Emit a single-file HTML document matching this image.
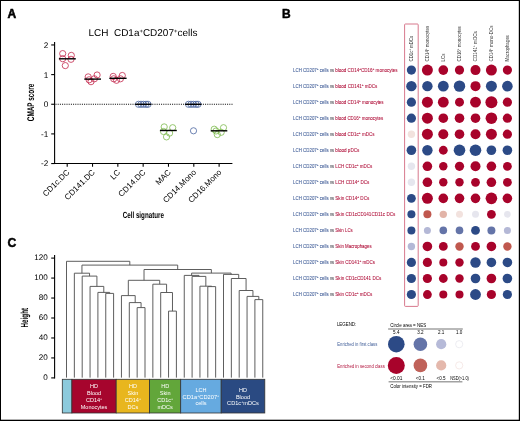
<!DOCTYPE html>
<html><head><meta charset="utf-8"><style>
html,body{margin:0;padding:0;background:#fff;width:520px;height:421px;overflow:hidden}
svg{display:block;font-family:"Liberation Sans", sans-serif;will-change:transform}
.gp{text-rendering:geometricPrecision}
</style></head><body>
<svg width="520" height="421" viewBox="0 0 520 421">
<rect x="0" y="0" width="520" height="421" fill="#fff"/>
<text x="7.6" y="17.6" font-size="12.0" fill="#000" font-weight="bold" stroke="#000" stroke-width="0.55">A</text>
<text x="88.4" y="36.3" font-size="9.9" fill="#000" textLength="109.0" lengthAdjust="spacingAndGlyphs" class="gp">LCH&#160;&#160;CD1a<tspan baseline-shift="super" font-size="5.8">+</tspan>CD207<tspan baseline-shift="super" font-size="5.8">+</tspan>cells</text>
<g stroke="#000" stroke-width="1.1" fill="none">
<line x1="54.6" y1="42" x2="54.6" y2="164.10000000000002"/>
<line x1="54.05" y1="163.55" x2="232.4" y2="163.55"/>
<line x1="51.2" y1="44.95" x2="54.6" y2="44.95"/>
<line x1="51.2" y1="74.6" x2="54.6" y2="74.6"/>
<line x1="51.2" y1="104.25" x2="54.6" y2="104.25"/>
<line x1="51.2" y1="133.9" x2="54.6" y2="133.9"/>
<line x1="51.2" y1="163.55" x2="54.6" y2="163.55"/>
<line x1="67.2" y1="163.55" x2="67.2" y2="166.75"/>
<line x1="92.52000000000001" y1="163.55" x2="92.52000000000001" y2="166.75"/>
<line x1="117.84" y1="163.55" x2="117.84" y2="166.75"/>
<line x1="143.16000000000003" y1="163.55" x2="143.16000000000003" y2="166.75"/>
<line x1="168.48000000000002" y1="163.55" x2="168.48000000000002" y2="166.75"/>
<line x1="193.8" y1="163.55" x2="193.8" y2="166.75"/>
<line x1="219.12" y1="163.55" x2="219.12" y2="166.75"/>
</g>
<text x="48.3" y="47.85" font-size="8.2" fill="#000" text-anchor="end" class="gp">2</text>
<text x="48.3" y="77.5" font-size="8.2" fill="#000" text-anchor="end" class="gp">1</text>
<text x="48.3" y="107.15" font-size="8.2" fill="#000" text-anchor="end" class="gp">0</text>
<text x="48.3" y="136.8" font-size="8.2" fill="#000" text-anchor="end" class="gp">-1</text>
<text x="48.3" y="166.45000000000002" font-size="8.2" fill="#000" text-anchor="end" class="gp">-2</text>
<line x1="55.5" y1="104.25" x2="232.8" y2="104.25" stroke="#000" stroke-width="1" stroke-dasharray="1 1.2"/>
<g fill="none" stroke="#c42a4e" stroke-width="0.8">
<circle cx="62.7" cy="53.6" r="3.1"/>
<circle cx="62.7" cy="58.7" r="3.1"/>
<circle cx="71.3" cy="55.4" r="3.1"/>
<circle cx="71.0" cy="59.3" r="3.1"/>
<circle cx="65.3" cy="65.6" r="3.1"/>
</g>
<line x1="58.9" y1="58.8" x2="75.8" y2="58.8" stroke="#000" stroke-width="1.4"/>
<g fill="none" stroke="#c42a4e" stroke-width="0.8">
<circle cx="88.2" cy="76.9" r="3.1"/>
<circle cx="97.1" cy="75.0" r="3.1"/>
<circle cx="91.0" cy="81.7" r="3.1"/>
<circle cx="94.4" cy="78.8" r="3.1"/>
<circle cx="89.1" cy="79.8" r="3.1"/>
</g>
<line x1="84.3" y1="79.1" x2="101.0" y2="79.1" stroke="#000" stroke-width="1.4"/>
<g fill="none" stroke="#c42a4e" stroke-width="0.8">
<circle cx="113.2" cy="76.4" r="3.1"/>
<circle cx="122.3" cy="75.5" r="3.1"/>
<circle cx="116.5" cy="80.3" r="3.1"/>
<circle cx="120.4" cy="78.8" r="3.1"/>
<circle cx="113.7" cy="78.8" r="3.1"/>
</g>
<line x1="109.3" y1="78.3" x2="126.6" y2="78.3" stroke="#000" stroke-width="1.4"/>
<g fill="none" stroke="#4a64a0" stroke-width="0.8">
<circle cx="138.5" cy="104.3" r="3.1"/>
<circle cx="141.0" cy="104.3" r="3.1"/>
<circle cx="143.5" cy="104.3" r="3.1"/>
<circle cx="146.0" cy="104.3" r="3.1"/>
<circle cx="148.0" cy="104.3" r="3.1"/>
</g>
<line x1="135.1" y1="104.3" x2="151.4" y2="104.3" stroke="#000" stroke-width="1.4"/>
<g fill="none" stroke="#7cba4c" stroke-width="0.8">
<circle cx="164.2" cy="126.9" r="3.1"/>
<circle cx="172.7" cy="127.7" r="3.1"/>
<circle cx="169.6" cy="133.1" r="3.1"/>
<circle cx="163.5" cy="131.5" r="3.1"/>
<circle cx="166.5" cy="136.9" r="3.1"/>
</g>
<line x1="159.9" y1="130.5" x2="176.8" y2="130.5" stroke="#000" stroke-width="1.4"/>
<g fill="none" stroke="#4a64a0" stroke-width="0.8">
<circle cx="188.5" cy="104.3" r="3.1"/>
<circle cx="191.0" cy="104.3" r="3.1"/>
<circle cx="193.5" cy="104.3" r="3.1"/>
<circle cx="196.0" cy="104.3" r="3.1"/>
<circle cx="198.0" cy="104.3" r="3.1"/>
<circle cx="193.5" cy="130.8" r="3.1"/>
</g>
<line x1="185.1" y1="104.3" x2="201.4" y2="104.3" stroke="#000" stroke-width="1.4"/>
<g fill="none" stroke="#7cba4c" stroke-width="0.8">
<circle cx="214.2" cy="129.2" r="3.1"/>
<circle cx="223.5" cy="127.7" r="3.1"/>
<circle cx="217.3" cy="134.6" r="3.1"/>
<circle cx="221.2" cy="132.3" r="3.1"/>
<circle cx="216.0" cy="131.0" r="3.1"/>
</g>
<line x1="210.7" y1="130.8" x2="227.3" y2="130.8" stroke="#000" stroke-width="1.4"/>
<text x="0" y="0" font-size="8.1" text-anchor="end" transform="translate(70.10000000000001,172.8) rotate(-45)">CD1c.DC</text>
<text x="0" y="0" font-size="8.1" text-anchor="end" transform="translate(95.42000000000002,172.8) rotate(-45)">CD141.DC</text>
<text x="0" y="0" font-size="8.1" text-anchor="end" transform="translate(120.74000000000001,172.8) rotate(-45)">LC</text>
<text x="0" y="0" font-size="8.1" text-anchor="end" transform="translate(146.06000000000003,172.8) rotate(-45)">CD14.DC</text>
<text x="0" y="0" font-size="8.1" text-anchor="end" transform="translate(171.38000000000002,172.8) rotate(-45)">MAC</text>
<text x="0" y="0" font-size="8.1" text-anchor="end" transform="translate(196.70000000000002,172.8) rotate(-45)">CD14.Mono</text>
<text x="0" y="0" font-size="8.1" text-anchor="end" transform="translate(222.02,172.8) rotate(-45)">CD16.Mono</text>
<text x="122.7" y="217.5" font-size="8.9" fill="#000" textLength="41.3" lengthAdjust="spacingAndGlyphs" font-weight="bold" class="gp">Cell signature</text>
<text x="0" y="0" class="gp" font-size="9.7" font-weight="bold" text-anchor="middle" textLength="37.5" lengthAdjust="spacingAndGlyphs" transform="translate(34.45,102.45) rotate(-90)">CMAP score</text>
<text x="281.9" y="17.6" font-size="12.0" fill="#000" font-weight="bold" stroke="#000" stroke-width="0.45">B</text>
<circle cx="411.4" cy="70.10" r="4.6" fill="#2c4a86"/>
<circle cx="427.4" cy="70.10" r="5.5" fill="#a8032b"/>
<circle cx="443.3" cy="70.10" r="4.85" fill="#a8032b"/>
<circle cx="459.5" cy="70.10" r="4.6" fill="#a8032b"/>
<circle cx="475.5" cy="70.10" r="5.0" fill="#a8032b"/>
<circle cx="491.4" cy="70.10" r="5.5" fill="#a8032b"/>
<circle cx="507.4" cy="70.10" r="4.6" fill="#a8032b"/>
<circle cx="411.4" cy="86.13" r="5.2" fill="#2c4a86"/>
<circle cx="427.4" cy="86.13" r="5.2" fill="#2c4a86"/>
<circle cx="443.3" cy="86.13" r="5.4" fill="#2c4a86"/>
<circle cx="459.5" cy="86.13" r="5.7" fill="#2c4a86"/>
<circle cx="475.5" cy="86.13" r="5.0" fill="#a8032b"/>
<circle cx="491.4" cy="86.13" r="5.5" fill="#2c4a86"/>
<circle cx="507.4" cy="86.13" r="5.3" fill="#2c4a86"/>
<circle cx="411.4" cy="102.16" r="4.6" fill="#2c4a86"/>
<circle cx="427.4" cy="102.16" r="5.5" fill="#a8032b"/>
<circle cx="443.3" cy="102.16" r="5.4" fill="#a8032b"/>
<circle cx="459.5" cy="102.16" r="4.5" fill="#a8032b"/>
<circle cx="475.5" cy="102.16" r="5.4" fill="#a8032b"/>
<circle cx="491.4" cy="102.16" r="6.0" fill="#a8032b"/>
<circle cx="507.4" cy="102.16" r="4.6" fill="#a8032b"/>
<circle cx="411.4" cy="118.19" r="4.6" fill="#2c4a86"/>
<circle cx="427.4" cy="118.19" r="5.5" fill="#a8032b"/>
<circle cx="443.3" cy="118.19" r="4.8" fill="#a8032b"/>
<circle cx="459.5" cy="118.19" r="4.8" fill="#a8032b"/>
<circle cx="475.5" cy="118.19" r="4.8" fill="#a8032b"/>
<circle cx="491.4" cy="118.19" r="5.8" fill="#a8032b"/>
<circle cx="507.4" cy="118.19" r="4.6" fill="#a8032b"/>
<circle cx="411.4" cy="134.22" r="3.7" fill="#f2e2de"/>
<circle cx="427.4" cy="134.22" r="5.5" fill="#a8032b"/>
<circle cx="443.3" cy="134.22" r="5.0" fill="#a8032b"/>
<circle cx="459.5" cy="134.22" r="4.8" fill="#a8032b"/>
<circle cx="475.5" cy="134.22" r="5.0" fill="#a8032b"/>
<circle cx="491.4" cy="134.22" r="5.5" fill="#a8032b"/>
<circle cx="507.4" cy="134.22" r="4.6" fill="#a8032b"/>
<circle cx="411.4" cy="150.25" r="4.8" fill="#2c4a86"/>
<circle cx="427.4" cy="150.25" r="5.2" fill="#2c4a86"/>
<circle cx="443.3" cy="150.25" r="4.4" fill="#a8032b"/>
<circle cx="459.5" cy="150.25" r="5.8" fill="#2c4a86"/>
<circle cx="475.5" cy="150.25" r="5.8" fill="#2c4a86"/>
<circle cx="491.4" cy="150.25" r="4.8" fill="#2c4a86"/>
<circle cx="507.4" cy="150.25" r="4.8" fill="#2c4a86"/>
<circle cx="411.4" cy="166.28" r="3.7" fill="#e6e6ee"/>
<circle cx="427.4" cy="166.28" r="4.8" fill="#a8032b"/>
<circle cx="443.3" cy="166.28" r="4.2" fill="#a8032b"/>
<circle cx="459.5" cy="166.28" r="4.6" fill="#a8032b"/>
<circle cx="475.5" cy="166.28" r="5.0" fill="#a8032b"/>
<circle cx="491.4" cy="166.28" r="4.8" fill="#a8032b"/>
<circle cx="507.4" cy="166.28" r="4.4" fill="#a8032b"/>
<circle cx="411.4" cy="182.31" r="3.7" fill="#e6e6ee"/>
<circle cx="427.4" cy="182.31" r="4.8" fill="#a8032b"/>
<circle cx="443.3" cy="182.31" r="4.2" fill="#a8032b"/>
<circle cx="459.5" cy="182.31" r="4.2" fill="#a8032b"/>
<circle cx="475.5" cy="182.31" r="4.4" fill="#a8032b"/>
<circle cx="491.4" cy="182.31" r="4.8" fill="#a8032b"/>
<circle cx="507.4" cy="182.31" r="4.4" fill="#a8032b"/>
<circle cx="411.4" cy="198.34" r="4.4" fill="#2c4a86"/>
<circle cx="427.4" cy="198.34" r="5.5" fill="#a8032b"/>
<circle cx="443.3" cy="198.34" r="4.8" fill="#a8032b"/>
<circle cx="459.5" cy="198.34" r="4.8" fill="#a8032b"/>
<circle cx="475.5" cy="198.34" r="4.8" fill="#a8032b"/>
<circle cx="491.4" cy="198.34" r="5.8" fill="#a8032b"/>
<circle cx="507.4" cy="198.34" r="4.8" fill="#a8032b"/>
<circle cx="411.4" cy="214.37" r="4.0" fill="#2c4a86"/>
<circle cx="427.4" cy="214.37" r="4.0" fill="#c0584e"/>
<circle cx="443.3" cy="214.37" r="3.7" fill="#e2b4a8"/>
<circle cx="459.5" cy="214.37" r="3.5" fill="#f2e2de"/>
<circle cx="475.5" cy="214.37" r="3.5" fill="#e6e6ee"/>
<circle cx="491.4" cy="214.37" r="4.4" fill="#a8032b"/>
<circle cx="507.4" cy="214.37" r="3.3" fill="#e6e6ee"/>
<circle cx="411.4" cy="230.40" r="4.0" fill="#2c4a86"/>
<circle cx="427.4" cy="230.40" r="3.5" fill="#b4b8d6"/>
<circle cx="443.3" cy="230.40" r="3.8" fill="#6474a8"/>
<circle cx="459.5" cy="230.40" r="3.8" fill="#6474a8"/>
<circle cx="475.5" cy="230.40" r="4.4" fill="#2c4a86"/>
<circle cx="491.4" cy="230.40" r="4.0" fill="#6474a8"/>
<circle cx="507.4" cy="230.40" r="3.5" fill="#b4b8d6"/>
<circle cx="411.4" cy="246.43" r="3.7" fill="#b4b8d6"/>
<circle cx="427.4" cy="246.43" r="4.8" fill="#a8032b"/>
<circle cx="443.3" cy="246.43" r="4.4" fill="#a8032b"/>
<circle cx="459.5" cy="246.43" r="4.2" fill="#c0584e"/>
<circle cx="475.5" cy="246.43" r="4.4" fill="#a8032b"/>
<circle cx="491.4" cy="246.43" r="4.8" fill="#a8032b"/>
<circle cx="507.4" cy="246.43" r="4.2" fill="#c0584e"/>
<circle cx="411.4" cy="262.46" r="4.6" fill="#2c4a86"/>
<circle cx="427.4" cy="262.46" r="4.6" fill="#a8032b"/>
<circle cx="443.3" cy="262.46" r="4.0" fill="#a8032b"/>
<circle cx="459.5" cy="262.46" r="4.2" fill="#a8032b"/>
<circle cx="475.5" cy="262.46" r="5.2" fill="#2c4a86"/>
<circle cx="491.4" cy="262.46" r="4.8" fill="#2c4a86"/>
<circle cx="507.4" cy="262.46" r="4.8" fill="#2c4a86"/>
<circle cx="411.4" cy="278.49" r="4.6" fill="#2c4a86"/>
<circle cx="427.4" cy="278.49" r="4.6" fill="#a8032b"/>
<circle cx="443.3" cy="278.49" r="4.4" fill="#a8032b"/>
<circle cx="459.5" cy="278.49" r="4.2" fill="#a8032b"/>
<circle cx="475.5" cy="278.49" r="4.8" fill="#2c4a86"/>
<circle cx="491.4" cy="278.49" r="4.8" fill="#a8032b"/>
<circle cx="507.4" cy="278.49" r="4.8" fill="#2c4a86"/>
<circle cx="411.4" cy="294.52" r="4.6" fill="#2c4a86"/>
<circle cx="427.4" cy="294.52" r="4.4" fill="#a8032b"/>
<circle cx="443.3" cy="294.52" r="4.0" fill="#a8032b"/>
<circle cx="459.5" cy="294.52" r="4.0" fill="#a8032b"/>
<circle cx="475.5" cy="294.52" r="5.4" fill="#2c4a86"/>
<circle cx="491.4" cy="294.52" r="4.6" fill="#a8032b"/>
<circle cx="507.4" cy="294.52" r="4.6" fill="#2c4a86"/>
<rect x="404.6" y="24" width="13.6" height="282.4" rx="0.8" fill="none" stroke="#d26a80" stroke-width="0.9"/>
<text x="0" y="0" font-size="4.9" fill="#303030" textLength="25.5" lengthAdjust="spacingAndGlyphs" transform="translate(413.29999999999995,61.4) rotate(-90)">CD1c<tspan baseline-shift="super" font-size="3.2">+</tspan> mDCs</text>
<text x="0" y="0" font-size="4.9" fill="#303030" textLength="35.6" lengthAdjust="spacingAndGlyphs" transform="translate(429.29999999999995,61.4) rotate(-90)">CD14<tspan baseline-shift="super" font-size="3.2">+</tspan> monocytes</text>
<text x="0" y="0" font-size="4.9" fill="#303030" textLength="7.7" lengthAdjust="spacingAndGlyphs" transform="translate(445.2,61.4) rotate(-90)">LCs</text>
<text x="0" y="0" font-size="4.9" fill="#303030" textLength="35.2" lengthAdjust="spacingAndGlyphs" transform="translate(461.4,61.4) rotate(-90)">CD16<tspan baseline-shift="super" font-size="3.2">+</tspan> monocytes</text>
<text x="0" y="0" font-size="4.9" fill="#303030" textLength="30.3" lengthAdjust="spacingAndGlyphs" transform="translate(477.4,61.4) rotate(-90)">CD141<tspan baseline-shift="super" font-size="3.2">+</tspan> mDCs</text>
<text x="0" y="0" font-size="4.9" fill="#303030" textLength="35.8" lengthAdjust="spacingAndGlyphs" transform="translate(493.29999999999995,61.4) rotate(-90)">CD14<tspan baseline-shift="super" font-size="3.2">+</tspan> mono-DCs</text>
<text x="0" y="0" font-size="4.9" fill="#303030" textLength="26.1" lengthAdjust="spacingAndGlyphs" transform="translate(509.29999999999995,61.4) rotate(-90)">Macrophages</text>
<text x="293.1" y="71.85" font-size="4.7" fill="#3c5a96" textLength="35.5" lengthAdjust="spacingAndGlyphs" stroke="#3c5a96" stroke-width="0.07">LCH CD207<tspan baseline-shift="super" font-size="3.2">+</tspan> cells</text>
<text x="330.1" y="71.85" font-size="4.7" fill="#3a3a44" textLength="4.0" lengthAdjust="spacingAndGlyphs" stroke="#3a3a44" stroke-width="0.07">vs</text>
<text x="335.3" y="71.85" font-size="4.7" fill="#b0103a" textLength="62.2" lengthAdjust="spacingAndGlyphs" stroke="#b0103a" stroke-width="0.07">blood CD14<tspan baseline-shift="super" font-size="3.2">+</tspan>CD16<tspan baseline-shift="super" font-size="3.2">+</tspan> monocytes</text>
<text x="293.1" y="87.88" font-size="4.7" fill="#3c5a96" textLength="35.5" lengthAdjust="spacingAndGlyphs" stroke="#3c5a96" stroke-width="0.07">LCH CD207<tspan baseline-shift="super" font-size="3.2">+</tspan> cells</text>
<text x="330.1" y="87.88" font-size="4.7" fill="#3a3a44" textLength="4.0" lengthAdjust="spacingAndGlyphs" stroke="#3a3a44" stroke-width="0.07">vs</text>
<text x="335.3" y="87.88" font-size="4.7" fill="#b0103a" textLength="42.1" lengthAdjust="spacingAndGlyphs" stroke="#b0103a" stroke-width="0.07">blood CD141<tspan baseline-shift="super" font-size="3.2">+</tspan> mDCs</text>
<text x="293.1" y="103.91" font-size="4.7" fill="#3c5a96" textLength="35.5" lengthAdjust="spacingAndGlyphs" stroke="#3c5a96" stroke-width="0.07">LCH CD207<tspan baseline-shift="super" font-size="3.2">+</tspan> cells</text>
<text x="330.1" y="103.91" font-size="4.7" fill="#3a3a44" textLength="4.0" lengthAdjust="spacingAndGlyphs" stroke="#3a3a44" stroke-width="0.07">vs</text>
<text x="335.3" y="103.91" font-size="4.7" fill="#b0103a" textLength="48.3" lengthAdjust="spacingAndGlyphs" stroke="#b0103a" stroke-width="0.07">blood CD14<tspan baseline-shift="super" font-size="3.2">+</tspan> monocytes</text>
<text x="293.1" y="119.94" font-size="4.7" fill="#3c5a96" textLength="35.5" lengthAdjust="spacingAndGlyphs" stroke="#3c5a96" stroke-width="0.07">LCH CD207<tspan baseline-shift="super" font-size="3.2">+</tspan> cells</text>
<text x="330.1" y="119.94" font-size="4.7" fill="#3a3a44" textLength="4.0" lengthAdjust="spacingAndGlyphs" stroke="#3a3a44" stroke-width="0.07">vs</text>
<text x="335.3" y="119.94" font-size="4.7" fill="#b0103a" textLength="47.9" lengthAdjust="spacingAndGlyphs" stroke="#b0103a" stroke-width="0.07">blood CD16<tspan baseline-shift="super" font-size="3.2">+</tspan> monocytes</text>
<text x="293.1" y="135.97" font-size="4.7" fill="#3c5a96" textLength="35.5" lengthAdjust="spacingAndGlyphs" stroke="#3c5a96" stroke-width="0.07">LCH CD207<tspan baseline-shift="super" font-size="3.2">+</tspan> cells</text>
<text x="330.1" y="135.97" font-size="4.7" fill="#3a3a44" textLength="4.0" lengthAdjust="spacingAndGlyphs" stroke="#3a3a44" stroke-width="0.07">vs</text>
<text x="335.3" y="135.97" font-size="4.7" fill="#b0103a" textLength="39.1" lengthAdjust="spacingAndGlyphs" stroke="#b0103a" stroke-width="0.07">blood CD1c<tspan baseline-shift="super" font-size="3.2">+</tspan> mDCs</text>
<text x="293.1" y="152.00" font-size="4.7" fill="#3c5a96" textLength="35.5" lengthAdjust="spacingAndGlyphs" stroke="#3c5a96" stroke-width="0.07">LCH CD207<tspan baseline-shift="super" font-size="3.2">+</tspan> cells</text>
<text x="330.1" y="152.00" font-size="4.7" fill="#3a3a44" textLength="4.0" lengthAdjust="spacingAndGlyphs" stroke="#3a3a44" stroke-width="0.07">vs</text>
<text x="335.3" y="152.00" font-size="4.7" fill="#b0103a" textLength="24.1" lengthAdjust="spacingAndGlyphs" stroke="#b0103a" stroke-width="0.07">blood pDCs</text>
<text x="293.1" y="168.03" font-size="4.7" fill="#3c5a96" textLength="35.5" lengthAdjust="spacingAndGlyphs" stroke="#3c5a96" stroke-width="0.07">LCH CD207<tspan baseline-shift="super" font-size="3.2">+</tspan> cells</text>
<text x="330.1" y="168.03" font-size="4.7" fill="#3a3a44" textLength="4.0" lengthAdjust="spacingAndGlyphs" stroke="#3a3a44" stroke-width="0.07">vs</text>
<text x="335.3" y="168.03" font-size="4.7" fill="#b0103a" textLength="37.0" lengthAdjust="spacingAndGlyphs" stroke="#b0103a" stroke-width="0.07">LCH CD1c<tspan baseline-shift="super" font-size="3.2">+</tspan> mDCs</text>
<text x="293.1" y="184.06" font-size="4.7" fill="#3c5a96" textLength="35.5" lengthAdjust="spacingAndGlyphs" stroke="#3c5a96" stroke-width="0.07">LCH CD207<tspan baseline-shift="super" font-size="3.2">+</tspan> cells</text>
<text x="330.1" y="184.06" font-size="4.7" fill="#3a3a44" textLength="4.0" lengthAdjust="spacingAndGlyphs" stroke="#3a3a44" stroke-width="0.07">vs</text>
<text x="335.3" y="184.06" font-size="4.7" fill="#b0103a" textLength="34.0" lengthAdjust="spacingAndGlyphs" stroke="#b0103a" stroke-width="0.07">LCH CD14<tspan baseline-shift="super" font-size="3.2">+</tspan> DCs</text>
<text x="293.1" y="200.09" font-size="4.7" fill="#3c5a96" textLength="35.5" lengthAdjust="spacingAndGlyphs" stroke="#3c5a96" stroke-width="0.07">LCH CD207<tspan baseline-shift="super" font-size="3.2">+</tspan> cells</text>
<text x="330.1" y="200.09" font-size="4.7" fill="#3a3a44" textLength="4.0" lengthAdjust="spacingAndGlyphs" stroke="#3a3a44" stroke-width="0.07">vs</text>
<text x="335.3" y="200.09" font-size="4.7" fill="#b0103a" textLength="34.0" lengthAdjust="spacingAndGlyphs" stroke="#b0103a" stroke-width="0.07">Skin CD14<tspan baseline-shift="super" font-size="3.2">+</tspan> DCs</text>
<text x="293.1" y="216.12" font-size="4.7" fill="#3c5a96" textLength="35.5" lengthAdjust="spacingAndGlyphs" stroke="#3c5a96" stroke-width="0.07">LCH CD207<tspan baseline-shift="super" font-size="3.2">+</tspan> cells</text>
<text x="330.1" y="216.12" font-size="4.7" fill="#3a3a44" textLength="4.0" lengthAdjust="spacingAndGlyphs" stroke="#3a3a44" stroke-width="0.07">vs</text>
<text x="335.3" y="216.12" font-size="4.7" fill="#b0103a" textLength="60.1" lengthAdjust="spacingAndGlyphs" stroke="#b0103a" stroke-width="0.07">Skin CD1cCD141CD11c DCs</text>
<text x="293.1" y="232.15" font-size="4.7" fill="#3c5a96" textLength="35.5" lengthAdjust="spacingAndGlyphs" stroke="#3c5a96" stroke-width="0.07">LCH CD207<tspan baseline-shift="super" font-size="3.2">+</tspan> cells</text>
<text x="330.1" y="232.15" font-size="4.7" fill="#3a3a44" textLength="4.0" lengthAdjust="spacingAndGlyphs" stroke="#3a3a44" stroke-width="0.07">vs</text>
<text x="335.3" y="232.15" font-size="4.7" fill="#b0103a" textLength="17.4" lengthAdjust="spacingAndGlyphs" stroke="#b0103a" stroke-width="0.07">Skin LCs</text>
<text x="293.1" y="248.18" font-size="4.7" fill="#3c5a96" textLength="35.5" lengthAdjust="spacingAndGlyphs" stroke="#3c5a96" stroke-width="0.07">LCH CD207<tspan baseline-shift="super" font-size="3.2">+</tspan> cells</text>
<text x="330.1" y="248.18" font-size="4.7" fill="#3a3a44" textLength="4.0" lengthAdjust="spacingAndGlyphs" stroke="#3a3a44" stroke-width="0.07">vs</text>
<text x="335.3" y="248.18" font-size="4.7" fill="#b0103a" textLength="36.3" lengthAdjust="spacingAndGlyphs" stroke="#b0103a" stroke-width="0.07">Skin Macrophages</text>
<text x="293.1" y="264.21" font-size="4.7" fill="#3c5a96" textLength="35.5" lengthAdjust="spacingAndGlyphs" stroke="#3c5a96" stroke-width="0.07">LCH CD207<tspan baseline-shift="super" font-size="3.2">+</tspan> cells</text>
<text x="330.1" y="264.21" font-size="4.7" fill="#3a3a44" textLength="4.0" lengthAdjust="spacingAndGlyphs" stroke="#3a3a44" stroke-width="0.07">vs</text>
<text x="335.3" y="264.21" font-size="4.7" fill="#b0103a" textLength="39.7" lengthAdjust="spacingAndGlyphs" stroke="#b0103a" stroke-width="0.07">Skin CD141<tspan baseline-shift="super" font-size="3.2">+</tspan> mDCs</text>
<text x="293.1" y="280.24" font-size="4.7" fill="#3c5a96" textLength="35.5" lengthAdjust="spacingAndGlyphs" stroke="#3c5a96" stroke-width="0.07">LCH CD207<tspan baseline-shift="super" font-size="3.2">+</tspan> cells</text>
<text x="330.1" y="280.24" font-size="4.7" fill="#3a3a44" textLength="4.0" lengthAdjust="spacingAndGlyphs" stroke="#3a3a44" stroke-width="0.07">vs</text>
<text x="335.3" y="280.24" font-size="4.7" fill="#b0103a" textLength="46.0" lengthAdjust="spacingAndGlyphs" stroke="#b0103a" stroke-width="0.07">Skin CD1cCD141 DCs</text>
<text x="293.1" y="296.27" font-size="4.7" fill="#3c5a96" textLength="35.5" lengthAdjust="spacingAndGlyphs" stroke="#3c5a96" stroke-width="0.07">LCH CD207<tspan baseline-shift="super" font-size="3.2">+</tspan> cells</text>
<text x="330.1" y="296.27" font-size="4.7" fill="#3a3a44" textLength="4.0" lengthAdjust="spacingAndGlyphs" stroke="#3a3a44" stroke-width="0.07">vs</text>
<text x="335.3" y="296.27" font-size="4.7" fill="#b0103a" textLength="37.0" lengthAdjust="spacingAndGlyphs" stroke="#b0103a" stroke-width="0.07">Skin CD1c<tspan baseline-shift="super" font-size="3.2">+</tspan> mDCs</text>
<text x="336.9" y="326.4" font-size="5.1" fill="#000" textLength="19.4" lengthAdjust="spacingAndGlyphs">LEGEND:</text>
<text x="390.2" y="326.6" font-size="5.1" fill="#000" textLength="36.0" lengthAdjust="spacingAndGlyphs">Circle area = NES</text>
<line x1="388.1" y1="328.9" x2="462.8" y2="328.9" stroke="#a2a2a2" stroke-width="1.5"/>
<text x="396.3" y="334.0" font-size="4.6" fill="#000" text-anchor="middle">5.4</text>
<text x="420.4" y="334.0" font-size="4.6" fill="#000" text-anchor="middle">3.2</text>
<text x="441.2" y="334.0" font-size="4.6" fill="#000" text-anchor="middle">2.1</text>
<text x="459.2" y="334.0" font-size="4.6" fill="#000" text-anchor="middle">1.0</text>
<text x="337.2" y="346.0" font-size="5.1" fill="#3c5a96" textLength="40.1" lengthAdjust="spacingAndGlyphs">Enriched in first class</text>
<text x="337.2" y="367.6" font-size="5.1" fill="#b0103a" textLength="47.6" lengthAdjust="spacingAndGlyphs">Enriched in second class</text>
<circle cx="396.3" cy="344.2" r="8.3" fill="#2c4a86"/>
<circle cx="420.4" cy="344.2" r="6.8" fill="#6474a8"/>
<circle cx="441.2" cy="344.2" r="5.1" fill="#b6bad8"/>
<circle cx="459.2" cy="344.2" r="3.6" fill="#fff" stroke="#e0e0ea" stroke-width="0.6"/>
<circle cx="396.3" cy="365.4" r="8.5" fill="#a8032b"/>
<circle cx="420.4" cy="365.4" r="6.8" fill="#c0625a"/>
<circle cx="441.2" cy="365.4" r="5.1" fill="#e4b8ac"/>
<circle cx="459.2" cy="365.4" r="3.6" fill="#fff" stroke="#f0dcd8" stroke-width="0.6"/>
<text x="396.25" y="380.0" font-size="4.8" fill="#000" text-anchor="middle" textLength="12.1" lengthAdjust="spacingAndGlyphs">&lt;0.01</text>
<text x="420.3" y="380.0" font-size="4.8" fill="#000" text-anchor="middle" textLength="9.0" lengthAdjust="spacingAndGlyphs">&lt;0.1</text>
<text x="441.1" y="380.0" font-size="4.8" fill="#000" text-anchor="middle" textLength="9.0" lengthAdjust="spacingAndGlyphs">&lt;0.5</text>
<text x="459.55" y="380.0" font-size="4.8" fill="#000" text-anchor="middle" textLength="18.7" lengthAdjust="spacingAndGlyphs">NSD(&gt;1.0)</text>
<line x1="388.6" y1="381.8" x2="462.4" y2="381.8" stroke="#a2a2a2" stroke-width="1.5"/>
<text x="390.3" y="388.4" font-size="5.1" fill="#000" textLength="41.7" lengthAdjust="spacingAndGlyphs">Color intensity = FDR</text>
<text x="7.6" y="246.8" font-size="12.2" fill="#000" font-weight="bold" stroke="#000" stroke-width="0.45">C</text>
<g stroke="#000" stroke-width="1.1">
<line x1="54.6" y1="255" x2="54.6" y2="378.4"/>
<line x1="51.2" y1="377.90" x2="54.6" y2="377.90"/>
<line x1="51.2" y1="357.93" x2="54.6" y2="357.93"/>
<line x1="51.2" y1="337.97" x2="54.6" y2="337.97"/>
<line x1="51.2" y1="318.00" x2="54.6" y2="318.00"/>
<line x1="51.2" y1="298.04" x2="54.6" y2="298.04"/>
<line x1="51.2" y1="278.07" x2="54.6" y2="278.07"/>
<line x1="51.2" y1="258.10" x2="54.6" y2="258.10"/>
</g>
<text x="47.8" y="380.25" font-size="8.1" fill="#000" text-anchor="end" class="gp">0</text>
<text x="47.8" y="360.28" font-size="8.1" fill="#000" text-anchor="end" class="gp">20</text>
<text x="47.8" y="340.32" font-size="8.1" fill="#000" text-anchor="end" class="gp">40</text>
<text x="47.8" y="320.35" font-size="8.1" fill="#000" text-anchor="end" class="gp">60</text>
<text x="47.8" y="300.39" font-size="8.1" fill="#000" text-anchor="end" class="gp">80</text>
<text x="47.8" y="280.42" font-size="8.1" fill="#000" text-anchor="end" class="gp">100</text>
<text x="47.8" y="260.45" font-size="8.1" fill="#000" text-anchor="end" class="gp">120</text>
<text x="0" y="0" class="gp" font-size="10.3" font-weight="bold" text-anchor="middle" textLength="19.5" lengthAdjust="spacingAndGlyphs" transform="translate(28.2,317.65) rotate(-90)">Height</text>
<path d="M105.75 377.60V293.4H113.60V377.60 M97.90 377.60V292.4H109.67V293.40 M90.05 377.60V286.4H103.79V292.40 M82.20 377.60V276.1H96.92V286.40 M74.35 377.60V273.2H89.56V276.10 M137.15 377.60V307.6H145.00V377.60 M129.30 377.60V302.6H141.07V307.60 M121.45 377.60V295.6H135.19V302.60 M168.55 377.60V311.1H176.40V377.60 M160.70 377.60V292.5H172.47V311.10 M152.85 377.60V284.2H166.59V292.50 M128.32 295.60V280.3H159.72V284.20 M207.80 377.60V286.6H215.65V377.60 M199.95 377.60V286.2H211.72V286.60 M192.10 377.60V276.4H205.84V286.20 M184.25 377.60V275.4H198.97V276.40 M254.90 377.60V299.6H262.75V377.60 M247.05 377.60V296.4H258.82V299.60 M239.20 377.60V290.5H252.94V296.40 M231.35 377.60V278.5H246.07V290.50 M223.50 377.60V274.4H238.71V278.50 M191.61 275.40V273.1H231.10V274.40 M144.02 280.30V269.5H211.36V273.10 M81.95 273.20V265.1H177.69V269.50 M66.50 377.60V261.3H129.82V265.10" fill="none" stroke="#555" stroke-width="0.95"/>
<rect x="62.3" y="379.3" width="9.60" height="33.7" fill="#8ccadc" stroke="#333" stroke-width="0.8"/>
<rect x="71.9" y="379.3" width="44.30" height="33.7" fill="#a6052d" stroke="#333" stroke-width="0.8"/>
<text x="94.05" y="388.1" font-size="5.55" fill="#fff" text-anchor="middle">HD</text>
<text x="94.05" y="394.9" font-size="5.55" fill="#fff" text-anchor="middle">Blood</text>
<text x="94.05" y="401.7" font-size="5.55" fill="#fff" text-anchor="middle">CD14<tspan baseline-shift="super" font-size="3.6">+</tspan></text>
<text x="94.05" y="408.5" font-size="5.55" fill="#fff" text-anchor="middle" textLength="26.6" lengthAdjust="spacingAndGlyphs">Monocytes</text>
<rect x="116.2" y="379.3" width="33.40" height="33.7" fill="#e8b61e" stroke="#333" stroke-width="0.8"/>
<text x="132.90" y="388.1" font-size="5.55" fill="#fff" text-anchor="middle">HD</text>
<text x="132.90" y="394.9" font-size="5.55" fill="#fff" text-anchor="middle">Skin</text>
<text x="132.90" y="401.7" font-size="5.55" fill="#fff" text-anchor="middle">CD14<tspan baseline-shift="super" font-size="3.6">+</tspan></text>
<text x="132.90" y="408.5" font-size="5.55" fill="#fff" text-anchor="middle">DCs</text>
<rect x="149.6" y="379.3" width="31.10" height="33.7" fill="#62a63a" stroke="#333" stroke-width="0.8"/>
<text x="165.15" y="388.1" font-size="5.55" fill="#fff" text-anchor="middle">HD</text>
<text x="165.15" y="394.9" font-size="5.55" fill="#fff" text-anchor="middle">Skin</text>
<text x="165.15" y="401.7" font-size="5.55" fill="#fff" text-anchor="middle">CD1c<tspan baseline-shift="super" font-size="3.6">+</tspan></text>
<text x="165.15" y="408.5" font-size="5.55" fill="#fff" text-anchor="middle">mDCs</text>
<rect x="180.7" y="379.3" width="40.50" height="33.7" fill="#66aae0" stroke="#333" stroke-width="0.8"/>
<text x="200.95" y="392.0" font-size="5.55" fill="#fff" text-anchor="middle">LCH</text>
<text x="200.95" y="398.6" font-size="5.55" fill="#fff" text-anchor="middle" textLength="36.7" lengthAdjust="spacingAndGlyphs">CD1a<tspan baseline-shift="super" font-size="3.6">+</tspan>CD207<tspan baseline-shift="super" font-size="3.6">+</tspan></text>
<text x="200.95" y="405.2" font-size="5.55" fill="#fff" text-anchor="middle">cells</text>
<rect x="221.2" y="379.3" width="43.60" height="33.7" fill="#2a4a82" stroke="#333" stroke-width="0.8"/>
<text x="243.00" y="392.0" font-size="5.55" fill="#fff" text-anchor="middle">HD</text>
<text x="243.00" y="398.6" font-size="5.55" fill="#fff" text-anchor="middle">Blood</text>
<text x="243.00" y="405.2" font-size="5.55" fill="#fff" text-anchor="middle" textLength="31.8" lengthAdjust="spacingAndGlyphs">CD1c<tspan baseline-shift="super" font-size="3.6">+</tspan>mDCs</text>
<rect x="0.5" y="0.5" width="518.8" height="419.7" fill="none" stroke="#000" stroke-width="1"/>
<rect x="519" y="0" width="1" height="421" fill="#000"/><rect x="0" y="420" width="520" height="1" fill="#000"/>
</svg>
</body></html>
